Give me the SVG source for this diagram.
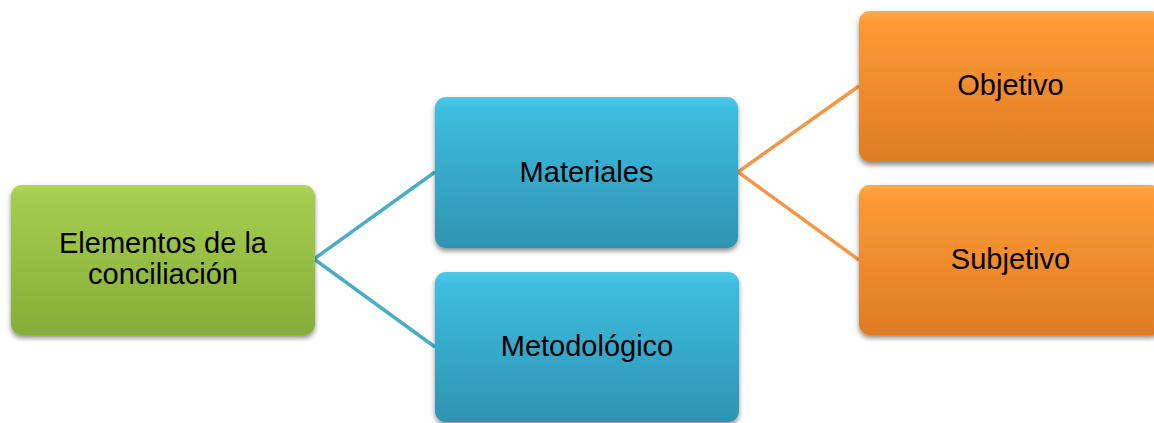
<svg xmlns="http://www.w3.org/2000/svg" width="1154" height="423" viewBox="0 0 1154 423">
<defs>
<linearGradient id="gGreen" x1="0" y1="0" x2="0" y2="1">
<stop offset="0" stop-color="#b0d65a"/>
<stop offset="0.08" stop-color="#a4cd4f"/>
<stop offset="1" stop-color="#86ad38"/>
</linearGradient>
<linearGradient id="gBlue" x1="0" y1="0" x2="0" y2="1">
<stop offset="0" stop-color="#4ecaea"/>
<stop offset="0.08" stop-color="#3dbde0"/>
<stop offset="1" stop-color="#2f93b2"/>
</linearGradient>
<linearGradient id="gOrange" x1="0" y1="0" x2="0" y2="1">
<stop offset="0" stop-color="#ffab4a"/>
<stop offset="0.08" stop-color="#fd9a35"/>
<stop offset="1" stop-color="#e07b24"/>
</linearGradient>
<filter id="shadow" x="-10%" y="-10%" width="120%" height="130%">
<feDropShadow dx="0" dy="3" stdDeviation="2.5" flood-color="#000" flood-opacity="0.45"/>
</filter>
</defs>
<style>
.box{filter:url(#shadow);}
.lbl{font-family:"Liberation Sans",Arial,sans-serif;font-size:29px;fill:#000;text-anchor:middle;}
.conn{fill:none;stroke-width:3.5;stroke-linejoin:miter;}
</style>
<rect width="1154" height="423" fill="#fff"/>
<g id="connectors">
<polyline class="conn" stroke="#4bacc6" points="435,172 314,259 435,347"/>
<polyline class="conn" stroke="#f79646" points="859,86 738,172 859,260"/>
</g>
<g id="n-elementos">
<rect class="box" x="11" y="185" width="304" height="150" rx="11" fill="url(#gGreen)"/>
<text class="lbl" x="163" y="253">Elementos de la</text>
<text class="lbl" x="163" y="284">conciliación</text>
</g>
<g id="n-materiales">
<rect class="box" x="435" y="97" width="303" height="151" rx="11" fill="url(#gBlue)"/>
<text class="lbl" x="586.5" y="182">Materiales</text>
</g>
<g id="n-metodologico">
<rect class="box" x="435" y="272" width="304" height="150" rx="11" fill="url(#gBlue)"/>
<text class="lbl" x="587" y="356">Metodológico</text>
</g>
<g id="n-objetivo">
<rect class="box" x="859" y="11" width="303" height="151" rx="11" fill="url(#gOrange)"/>
<text class="lbl" x="1010.5" y="95">Objetivo</text>
</g>
<g id="n-subjetivo">
<rect class="box" x="859" y="185" width="303" height="150" rx="11" fill="url(#gOrange)"/>
<text class="lbl" x="1010.5" y="269">Subjetivo</text>
</g>
</svg>
